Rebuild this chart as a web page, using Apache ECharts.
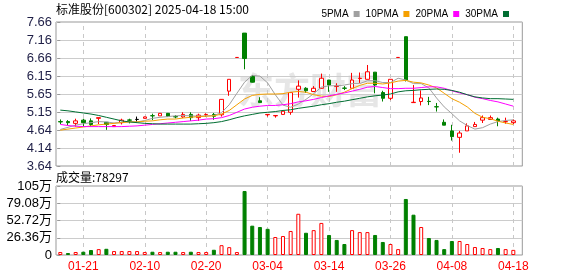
<!DOCTYPE html>
<html>
<head>
<meta charset="utf-8">
<script src="https://cdn.jsdelivr.net/npm/echarts@6/dist/echarts.min.js"></script>
<style>html,body{margin:0;padding:0;background:#fff;}#c{width:578px;height:276px;}</style>
</head>
<body>
<div id="c"></div>
<script>
const stockName = '标准股份';
const stockCode = '600302';
const stamp = '2025-04-18 15:00';

const dates = ['01-16','01-17','01-20','01-21','01-22','01-23','01-24','01-27','02-05','02-06','02-07','02-10','02-11','02-12','02-13','02-14','02-17','02-18','02-19','02-20','02-21','02-24','02-25','02-26','02-27','02-28','03-03','03-04','03-05','03-06','03-07','03-10','03-11','03-12','03-13','03-14','03-17','03-18','03-19','03-20','03-21','03-24','03-25','03-26','03-27','03-28','03-31','04-01','04-02','04-03','04-07','04-08','04-09','04-10','04-11','04-14','04-15','04-16','04-17','04-18'];

const opens  = [4.88,4.88,4.83,4.92,4.90,4.97,4.86,4.74,4.85,4.925,4.94,4.97,5.045,5.04,5.11,5.02,5.01,5.08,4.99,5.075,5.08,5.07,5.73,6.67,7.35,6.14,5.46,5.07,5.04,5.08,5.14,5.78,5.81,5.72,5.81,6.04,5.86,5.815,5.81,6.08,6.06,6.26,5.69,5.53,6.67,7.25,5.41,5.44,5.445,5.295,4.86,4.62,4.44,4.62,4.74,4.92,4.94,4.95,4.875,4.85];
const closes = [4.87,4.85,4.90,4.85,4.80,4.99,4.80,4.77,4.92,4.92,4.94,5.01,5.04,5.11,5.02,5.01,5.08,4.99,5.06,5.08,5.03,5.50,6.06,6.67,6.64,5.98,5.41,5.08,5.05,5.17,5.69,5.87,5.74,5.81,6.09,5.90,5.87,5.81,6.04,6.09,6.27,5.90,5.53,6.06,6.67,6.04,5.42,5.54,5.44,5.29,4.78,4.46,4.56,4.76,4.80,4.99,4.99,4.90,4.88,4.90];
const lows   = [4.81,4.78,4.74,4.74,4.74,4.81,4.65,4.73,4.80,4.83,4.86,4.97,4.92,5.04,5.01,4.97,4.98,4.90,4.90,5.01,4.93,5.02,5.60,6.67,6.34,5.97,5.40,5.02,4.99,5.07,5.07,5.55,5.68,5.71,5.80,5.71,5.71,5.76,5.81,5.96,6.06,5.67,5.44,5.48,6.67,6.00,5.41,5.33,5.34,5.16,4.78,4.35,4.01,4.62,4.74,4.84,4.93,4.75,4.82,4.81];
const highs  = [4.94,4.92,4.96,4.96,4.97,4.99,4.87,4.78,4.96,4.96,5.02,5.02,5.10,5.12,5.12,5.06,5.14,5.14,5.10,5.11,5.12,5.51,6.06,6.67,7.35,6.18,5.56,5.08,5.06,5.20,5.69,6.03,5.84,5.87,6.22,6.04,5.95,5.87,6.24,6.25,6.46,6.26,5.74,6.06,6.67,7.25,5.90,5.75,5.57,5.40,4.94,4.79,4.62,4.83,4.87,5.05,5.05,4.99,4.99,4.94];

const ma5  = [4.66,4.72,4.78,4.82,4.85,4.88,4.87,4.84,4.86,4.88,4.87,4.91,4.97,5.00,5.02,5.04,5.05,5.04,5.03,5.04,5.05,5.13,5.35,5.67,5.98,6.17,6.15,5.96,5.63,5.34,5.28,5.37,5.50,5.66,5.84,5.88,5.88,5.90,5.94,5.94,6.02,6.02,5.97,5.97,6.09,6.04,5.94,5.94,5.82,5.54,5.29,5.10,4.90,4.77,4.67,4.71,4.81,4.88,4.91,4.93];
const ma10 = [4.64,4.67,4.70,4.73,4.76,4.79,4.81,4.83,4.85,4.87,4.87,4.89,4.90,4.93,4.95,4.95,4.98,5.00,5.02,5.03,5.04,5.09,5.19,5.35,5.51,5.61,5.64,5.65,5.65,5.66,5.70,5.72,5.70,5.63,5.59,5.58,5.63,5.70,5.80,5.89,5.95,5.95,5.93,5.96,6.01,6.03,5.98,5.96,5.90,5.82,5.67,5.52,5.42,5.29,5.11,5.00,4.96,4.89,4.84,4.80];
const ma20 = [4.80,4.77,4.75,4.74,4.74,4.74,4.74,4.74,4.74,4.75,4.76,4.78,4.80,4.82,4.84,4.86,4.88,4.90,4.92,4.95,4.96,4.99,5.05,5.14,5.23,5.28,5.31,5.33,5.33,5.35,5.38,5.43,5.46,5.50,5.55,5.60,5.64,5.68,5.73,5.78,5.84,5.86,5.83,5.80,5.80,5.81,5.81,5.83,5.85,5.85,5.81,5.74,5.68,5.63,5.56,5.52,5.47,5.43,5.37,5.31];
const ma30 = [5.20,5.18,5.15,5.12,5.09,5.05,5.00,4.95,4.90,4.87,4.85,4.83,4.82,4.81,4.81,4.81,4.81,4.81,4.82,4.83,4.85,4.88,4.93,4.99,5.04,5.08,5.12,5.14,5.16,5.19,5.21,5.25,5.28,5.31,5.35,5.38,5.42,5.45,5.49,5.53,5.57,5.60,5.62,5.65,5.71,5.74,5.75,5.77,5.78,5.79,5.78,5.75,5.70,5.63,5.57,5.54,5.52,5.52,5.51,5.50];

const volumes = [46000,30000,46000,50000,76000,90000,95000,60000,60000,60000,60000,45000,50000,45000,50000,50000,45000,50000,45000,45000,80000,150000,120000,45000,978000,448000,428000,400000,275000,290000,367000,630000,340000,380000,490000,306000,230000,168000,380000,350000,350000,306000,199000,168000,90000,856000,616000,428000,260000,230000,90000,214000,214000,168000,122000,107000,90000,107000,90000,78297];
const volDir = [1,-1,1,-1,-1,1,-1,1,1,1,1,1,-1,1,-1,-1,1,-1,1,1,-1,1,1,1,-1,-1,-1,-1,1,1,1,1,-1,1,1,-1,-1,-1,1,1,1,-1,-1,1,1,-1,-1,1,-1,-1,-1,-1,1,1,1,1,1,-1,1,1];

const xTickLabels = ['01-21','02-10','02-20','03-04','03-14','03-26','04-08','04-18'];
const priceTickLabels = ['3.64','4.14','4.64','5.15','5.65','6.15','6.66','7.16','7.66'];
const volTickLabels = ['0','26.36万','52.72万','79.08万','105万'];
const maNames = ['5PMA','10PMA','20PMA','30PMA'];

const RED = '#ff0000', GREEN = '#008000';
const maColors = ['#a0a0a0','#f5a000','#ff00ff','#006e32'];
const labelIdx = xTickLabels.map(d => dates.indexOf(d));
const priceMin = 3.64, priceMax = 7.66, priceStep = (priceMax - priceMin) / 8;
const volMax = 1054400, volStep = volMax / 4;
const xMin = -0.56, xMax = 60.17;

const candleData = dates.map((d, i) => {
  const item = { value: [i, opens[i], closes[i], lows[i], highs[i]] };
  if (opens[i] === closes[i] && lows[i] !== highs[i]) {
    item.itemStyle = { color: '#000', color0: '#000', borderColor: '#000', borderColor0: '#000' };
  }
  return item;
});
const volData = volumes.map((v, i) => ({
  value: [i, v],
  itemStyle: volDir[i] > 0 ? { color: '#fff', borderColor: RED, borderWidth: 1 } : { color: GREEN, borderColor: GREEN, borderWidth: 1 }
}));
const maArrays = [ma5, ma10, ma20, ma30];

const vLines = {
  silent: true, z: 1, symbol: ['none', 'none'], label: { show: false },
  lineStyle: { color: '#c8c8c8', type: [4, 4], width: 1 },
  emphasis: { disabled: true },
  data: labelIdx.map(i => ({ xAxis: i }))
};

const chart = echarts.init(document.getElementById('c'), null, { renderer: 'canvas' });
const axisFont = 'Liberation Sans, Arial, sans-serif';
const xAxisBase = { type: 'value', min: xMin, max: xMax, axisLine: { show: false }, axisTick: { show: false }, splitLine: { show: false } };

chart.setOption({
  animation: false,
  backgroundColor: '#fff',
  graphic: [
    { type: 'text', left: 56, top: 3, z: 10, style: { text: stockName + '[' + stockCode + '] ' + stamp, fill: '#000', font: '12px "Noto Sans CJK SC", sans-serif' } },
    { type: 'text', left: 56, top: 171, z: 10, style: { text: '成交量:' + volumes[volumes.length - 1], fill: '#000', font: '12px "Noto Sans CJK SC", sans-serif' } },
    { type: 'text', left: 238, top: 72, z: 0, style: { text: '东方财富', fill: '#e6e6e6', font: 'bold 36px "Noto Sans CJK SC", sans-serif' } }
  ],
  legend: {
    right: 64, top: 4, align: 'right', icon: 'rect', itemWidth: 6, itemHeight: 6, itemGap: 6,
    selectedMode: false,
    textStyle: { fontSize: 10, color: '#000', fontFamily: 'Liberation Sans Narrow, Liberation Sans, sans-serif' },
    data: maNames
  },
  grid: [
    { left: 56, right: 55.7, top: 22, height: 144, show: true, borderColor: '#999', borderWidth: 1 },
    { left: 56, right: 55.7, top: 186, height: 69, show: true, borderColor: '#999', borderWidth: 1 }
  ],
  xAxis: [
    Object.assign({ gridIndex: 0, axisLabel: { show: false } }, xAxisBase),
    Object.assign({ gridIndex: 1, axisLabel: { show: true, customValues: labelIdx, formatter: v => dates[Math.round(v)] || '', color: RED, fontSize: 12, fontFamily: axisFont, margin: 6 } }, xAxisBase)
  ],
  yAxis: [
    { type: 'value', gridIndex: 0, min: priceMin, max: priceMax, interval: priceStep,
      axisLine: { show: false }, axisTick: { show: true, length: 3, lineStyle: { color: '#999' } },
      axisLabel: { color: '#1e1e46', fontSize: 13, fontFamily: axisFont, margin: 4, formatter: v => priceTickLabels[Math.round((v - priceMin) / priceStep)] },
      splitLine: { lineStyle: { color: '#cccccc', width: 1 } } },
    { type: 'value', gridIndex: 1, min: 0, max: volMax, interval: volStep,
      axisLine: { show: false }, axisTick: { show: true, length: 3, lineStyle: { color: '#999' } },
      axisLabel: { color: '#000', fontSize: 13, fontFamily: axisFont + ', "Noto Sans CJK SC"', margin: 4, formatter: v => volTickLabels[Math.round(v / volStep)] },
      splitLine: { lineStyle: { color: '#cccccc', width: 1 } } }
  ],
  series: [
    { type: 'candlestick', name: 'K', xAxisIndex: 0, yAxisIndex: 0, barWidth: 4, z: 3,
      encode: { x: 0, y: [1, 2, 3, 4] },
      itemStyle: { color: '#ffffff', color0: GREEN, borderColor: RED, borderColor0: GREEN, borderWidth: 1 },
      data: candleData, markLine: vLines },
    ...maArrays.map((arr, k) => ({
      type: 'line', name: maNames[k], xAxisIndex: 0, yAxisIndex: 0, showSymbol: false, symbol: 'none', z: 4,
      color: maColors[k], lineStyle: { width: 1, color: maColors[k] },
      data: arr.map((v, i) => [i, v])
    })),
    { type: 'bar', name: 'VOL', xAxisIndex: 1, yAxisIndex: 1, barWidth: 4, z: 3,
      encode: { x: 0, y: 1 }, data: volData, markLine: vLines }
  ]
});
</script>
</body>
</html>
